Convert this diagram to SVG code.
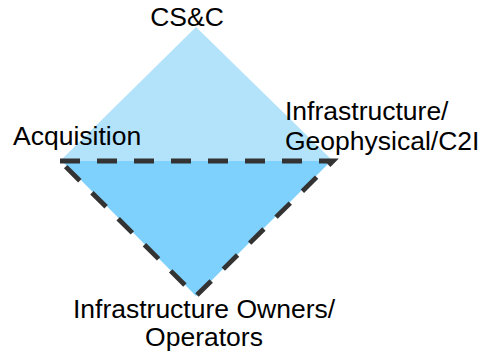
<svg xmlns="http://www.w3.org/2000/svg" width="481" height="355" viewBox="0 0 481 355">
<style>
text{font-family:"Liberation Sans",Arial,sans-serif;font-size:26.5px;fill:#000}
.dash{fill:none;stroke:#333;stroke-width:4.8;stroke-dasharray:20,17}
</style>
<rect width="481" height="355" fill="#fff"/>
<g id="upper"><polygon points="60,161 196,27 333,161" fill="#b3e3fb"/></g>
<g id="lower"><polygon points="62,161 331,161 196,296" fill="#7fd1fd"/></g>
<g id="connectors"><path class="dash" d="M60,161 L333,161 L196,296 Z"/></g>
<g id="label-top"><text x="187" y="25.5" text-anchor="middle">CS&amp;C</text></g>
<g id="label-left"><text x="13" y="145">Acquisition</text></g>
<g id="label-right"><text x="285" y="119.5">Infrastructure/</text><text x="285" y="149.5">Geophysical/C2I</text></g>
<g id="label-bottom"><text x="204" y="318" text-anchor="middle">Infrastructure Owners/</text><text x="204" y="346" text-anchor="middle">Operators</text></g>
</svg>
